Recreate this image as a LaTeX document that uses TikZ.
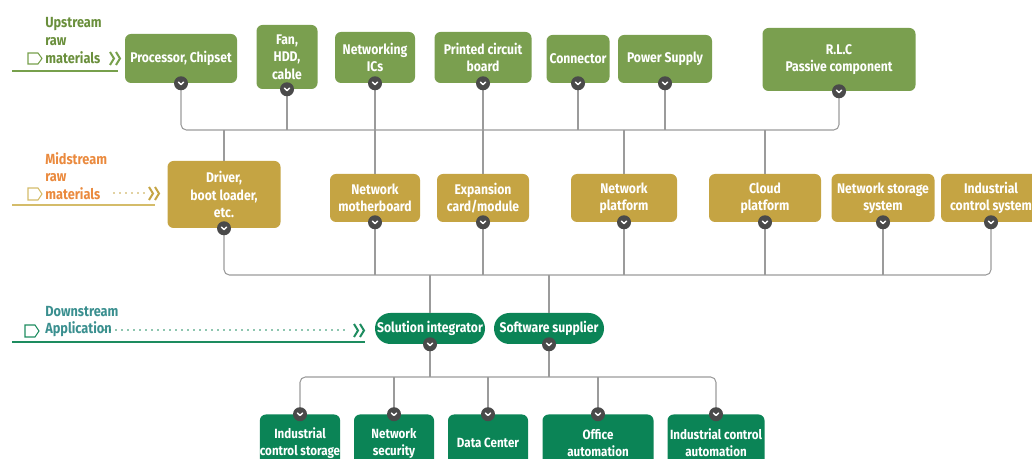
\documentclass[tikz,border=0pt]{standalone}
\usepackage{fontspec}
\setmainfont[FakeStretch=0.87]{Fira Sans}
\definecolor{upgreen}{RGB}{122,159,79}
\definecolor{midgold}{RGB}{197,164,67}
\definecolor{downgreen}{RGB}{11,132,86}
\definecolor{uptext}{RGB}{106,143,60}
\definecolor{midtext}{RGB}{234,138,62}
\definecolor{downtext}{RGB}{58,143,143}
\definecolor{upline}{RGB}{119,160,76}
\definecolor{midline}{RGB}{212,188,106}
\definecolor{downline}{RGB}{29,140,95}
\definecolor{wiregray}{RGB}{155,155,155}
\definecolor{chevgray}{RGB}{74,74,74}

\begin{document}
\begin{tikzpicture}[x=0.75pt,y=-0.75pt,
  box/.style={rounded corners=4.5pt, text=white, align=center, inner sep=0pt,
    font=\fontsize{10.5}{13}\selectfont\bfseries},
  upbox/.style={box, fill=upgreen},
  midbox/.style={box, fill=midgold},
  downbox/.style={box, fill=downgreen},
  appbox/.style={downbox, font=\fontsize{10}{12.8}\selectfont\bfseries},
  wire/.style={draw=wiregray, line width=0.8pt},
  chev/.style={circle, fill=chevgray, minimum size=10.5pt, inner sep=0pt,
    path picture={\draw[white, line width=1.1pt, line cap=round, line join=round]
      (path picture bounding box.center) ++(-2pt,0.9pt) -- ++(2pt,-1.8pt) -- ++(2pt,1.8pt);}},
  tag/.style={font=\fontsize{11}{13.2}\selectfont\bfseries, align=left, anchor=west, inner sep=0pt}
]
\useasboundingbox (0,0) rectangle (1032,459);
\clip (0,0) rectangle (1032,459);

% Left labels
\node[tag, text=uptext] (uplab) at (45,40.5) {Upstream\\raw\\materials};
\draw[upline, line width=0.8pt] (28,53) -- (38,53) -- (42,58.5) -- (38,64) -- (28,64) -- cycle;
\draw[upline, line width=1.5pt] (110,52) -- (114,58.5) -- (110,65) (116,52) -- (120,58.5) -- (116,65);
\draw[upline, line width=1.2pt] (12,71) -- (118,71);

\node[tag, text=midtext] (midlab) at (45,176) {Midstream\\raw\\materials};
\draw[midline, line width=0.8pt] (28,188) -- (38,188) -- (42,194) -- (38,200) -- (28,200) -- cycle;
\draw[midgold, line width=1.4pt, line cap=round, dash pattern=on 0pt off 4.5pt] (114,193) -- (145,193);
\draw[midgold, line width=1.5pt] (149,187) -- (153,193.5) -- (149,200) (155,187) -- (159,193.5) -- (155,200);
\draw[midline, line width=1.2pt] (12,205) -- (155,205);

\node[tag, text=downtext] (downlab) at (45,321.5) {Downstream\\Application};
\draw[downline, line width=0.8pt] (25,325) -- (35,325) -- (39,331) -- (35,337) -- (25,337) -- cycle;
\draw[downline, line width=1.4pt, line cap=round, dash pattern=on 0pt off 4.5pt] (104,330) -- (350,330);
\draw[downline, line width=1.5pt] (354,324) -- (358,330.5) -- (354,337) (360,324) -- (364,330.5) -- (360,337);
\draw[downline, line width=1.2pt] (12,342) -- (365,342);

% Upstream
\node[upbox, minimum width=84pt, minimum height=36.75pt] (proc) at (181,58.5) {Processor, Chipset};
\node[upbox, minimum width=45.75pt, minimum height=48pt] (fan) at (287,57) {Fan,\\HDD,\\cable};
\node[upbox, minimum width=60pt, minimum height=38.25pt] (netics) at (375,57.5) {Networking\\ICs};
\node[upbox, minimum width=72.75pt, minimum height=38.25pt] (pcb) at (483,57.5) {Printed circuit\\board};
\node[upbox, minimum width=47.25pt, minimum height=36pt] (conn) at (578,59) {Connector};
\node[upbox, minimum width=70.5pt, minimum height=36pt] (power) at (665,59) {Power Supply};
\node[upbox, minimum width=114.75pt, minimum height=47.25pt] (rlc) at (839,59.5) {R.L.C\\Passive component};

% Midstream
\node[midbox, minimum width=84.75pt, minimum height=50.25pt] (driver) at (224,194.5) {Driver,\\boot loader,\\etc.};
\node[midbox, minimum width=67.5pt, minimum height=36pt] (netmb) at (375,198) {Network\\motherboard};
\node[midbox, minimum width=69pt, minimum height=36pt] (exp) at (483,198) {Expansion\\card/module};
\node[midbox, minimum width=79.5pt, minimum height=36pt] (plat) at (624,198) {Network\\platform};
\node[midbox, minimum width=84pt, minimum height=36pt] (cloud) at (765,198) {Cloud\\platform};
\node[midbox, minimum width=77.25pt, minimum height=36pt] (nss) at (883,198) {Network storage\\system};
\node[midbox, minimum width=75pt, minimum height=36pt] (ics) at (991,198) {Industrial\\control system};

% Downstream
\node[downbox, rounded corners=11.6pt, minimum width=82.5pt, minimum height=23.25pt] (sol) at (430,328.5) {Solution integrator};
\node[downbox, rounded corners=11.6pt, minimum width=82.5pt, minimum height=23.25pt] (soft) at (549,328.5) {Software supplier};

\node[appbox, minimum width=60pt, minimum height=42.75pt] (ics1) at (300,443) {Industrial\\control storage};
\node[appbox, minimum width=60pt, minimum height=42.75pt] (netsec) at (394,443) {Network\\security};
\node[appbox, minimum width=60pt, minimum height=42.75pt] (dc) at (488,443) {Data Center};
\node[appbox, minimum width=83.25pt, minimum height=42.75pt] (office) at (598,443) {Office\\automation};
\node[appbox, minimum width=72.75pt, minimum height=42.75pt] (ica) at (716,443) {Industrial control\\automation};

% Buses
\coordinate (bus1) at (0,130);
\coordinate (bus2) at (0,275);
\coordinate (bus3) at (0,377);

\draw[wire, rounded corners=4pt] (proc.south) |- (rlc.south |- bus1) -- (rlc.south);
\foreach \n in {fan,conn,power} \draw[wire] (\n.south) -- (\n.south |- bus1);
\draw[wire] (netics.south) -- (netmb.north);
\draw[wire] (pcb.south) -- (exp.north);
\foreach \n in {driver,plat,cloud} \draw[wire] (\n.north) -- (\n.north |- bus1);

\draw[wire, rounded corners=4pt] (driver.south) |- (ics.south |- bus2) -- (ics.south);
\foreach \n in {netmb,exp,plat,cloud,nss} \draw[wire] (\n.south) -- (\n.south |- bus2);
\foreach \n in {sol,soft} \draw[wire] (\n.north) -- (\n.north |- bus2);

\draw[wire, rounded corners=4pt] (ics1.north) |- (ica.north |- bus3) -- (ica.north);
\foreach \n in {netsec,dc,office} \draw[wire] (\n.north) -- (\n.north |- bus3);
\foreach \n in {sol,soft} \draw[wire] (\n.south) -- (\n.south |- bus3);

% Chevrons
\foreach \n in {proc,fan,netics,pcb,conn,power,rlc,driver,netmb,exp,plat,cloud,nss,ics,sol,soft}
  \node[chev] (\n-v) at (\n.south) {};
\foreach \n in {ics1,netsec,dc,office,ica}
  \node[chev] (\n-v) at (\n.north) {};
\end{tikzpicture}
\end{document}
